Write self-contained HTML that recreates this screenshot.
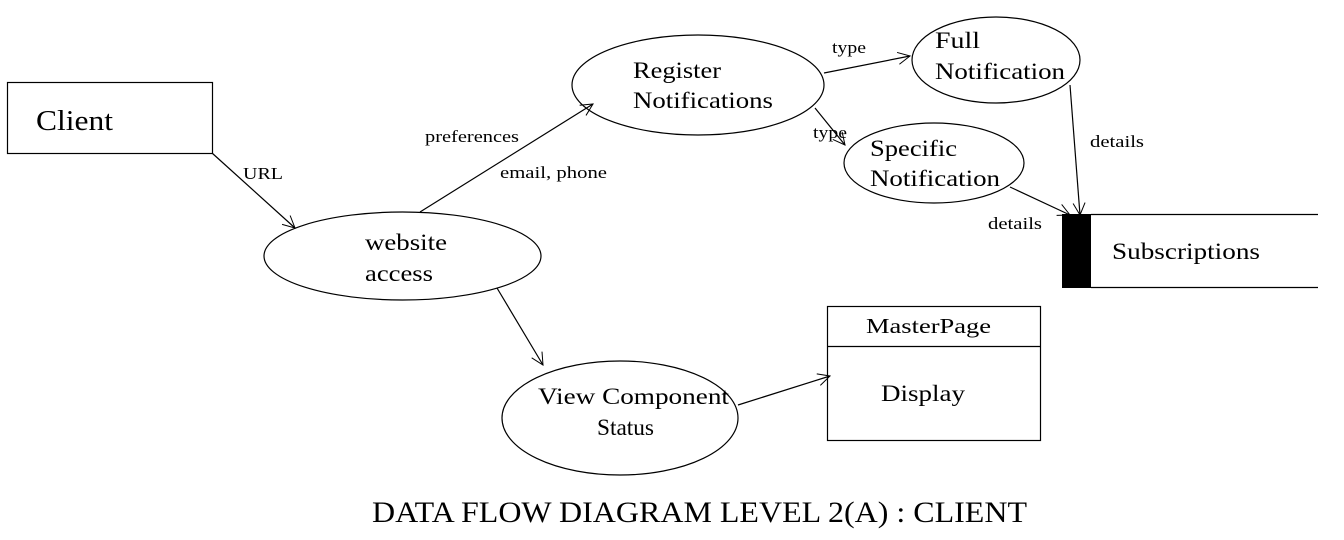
<!DOCTYPE html>
<html><head><style>html,body{margin:0;padding:0;background:#fff;}svg{display:block;}text{font-family:"Liberation Serif",serif;fill:#000;}</style></head>
<body>
<svg width="1344" height="540" viewBox="0 0 1344 540" xmlns="http://www.w3.org/2000/svg">
<defs><marker id="a" markerWidth="16" markerHeight="16" refX="14" refY="8" orient="auto" markerUnits="userSpaceOnUse"><path d="M2,2 L14,8 L2,14" fill="none" stroke="#000" stroke-width="1"/></marker></defs>
<g fill="none" stroke="#000" stroke-width="1.2">
<rect x="7.5" y="82.5" width="205" height="71"/>
<ellipse cx="402.5" cy="256" rx="138.5" ry="44"/>
<ellipse cx="698" cy="85" rx="126" ry="50"/>
<ellipse cx="996" cy="60" rx="84" ry="43"/>
<ellipse cx="934" cy="163" rx="90" ry="40"/>
<ellipse cx="620" cy="418" rx="118" ry="57"/>
<rect x="827.5" y="306.5" width="213" height="134"/>
<line x1="827" y1="346.5" x2="1040" y2="346.5"/>
<line x1="1091" y1="214.5" x2="1318" y2="214.5"/>
<line x1="1091" y1="287.5" x2="1318" y2="287.5"/>
<line x1="212" y1="153" x2="295" y2="228" marker-end="url(#a)"/>
<line x1="420" y1="212" x2="593" y2="104" marker-end="url(#a)"/>
<line x1="824" y1="73" x2="910" y2="56" marker-end="url(#a)"/>
<line x1="815" y1="108" x2="845" y2="145" marker-end="url(#a)"/>
<line x1="1010" y1="187" x2="1070" y2="215" marker-end="url(#a)"/>
<line x1="1070" y1="85" x2="1080" y2="215" marker-end="url(#a)"/>
<line x1="497" y1="288" x2="543" y2="365" marker-end="url(#a)"/>
<line x1="738" y1="405" x2="830" y2="376" marker-end="url(#a)"/>
</g>
<rect x="1062" y="214" width="29" height="74" fill="#000"/>
<text x="36" y="130" font-size="29" textLength="77" lengthAdjust="spacingAndGlyphs">Client</text>
<text x="243" y="179" font-size="17" textLength="40" lengthAdjust="spacingAndGlyphs">URL</text>
<text x="425" y="142" font-size="17" textLength="94" lengthAdjust="spacingAndGlyphs">preferences</text>
<text x="500" y="178" font-size="17" textLength="107" lengthAdjust="spacingAndGlyphs">email, phone</text>
<text x="365" y="250" font-size="23" textLength="82" lengthAdjust="spacingAndGlyphs">website</text>
<text x="365" y="281" font-size="23" textLength="68" lengthAdjust="spacingAndGlyphs">access</text>
<text x="633" y="78" font-size="23" textLength="88" lengthAdjust="spacingAndGlyphs">Register</text>
<text x="633" y="108" font-size="23" textLength="140" lengthAdjust="spacingAndGlyphs">Notifications</text>
<text x="832" y="53" font-size="17" textLength="34" lengthAdjust="spacingAndGlyphs">type</text>
<text x="813" y="138" font-size="17" textLength="34" lengthAdjust="spacingAndGlyphs">type</text>
<text x="935" y="48" font-size="23" textLength="45" lengthAdjust="spacingAndGlyphs">Full</text>
<text x="935" y="79" font-size="23" textLength="130" lengthAdjust="spacingAndGlyphs">Notification</text>
<text x="870" y="156" font-size="23" textLength="87" lengthAdjust="spacingAndGlyphs">Specific</text>
<text x="870" y="186" font-size="23" textLength="130" lengthAdjust="spacingAndGlyphs">Notification</text>
<text x="1090" y="147" font-size="17" textLength="54" lengthAdjust="spacingAndGlyphs">details</text>
<text x="988" y="229" font-size="17" textLength="54" lengthAdjust="spacingAndGlyphs">details</text>
<text x="1112" y="259" font-size="23" textLength="148" lengthAdjust="spacingAndGlyphs">Subscriptions</text>
<text x="538" y="404" font-size="23" textLength="191" lengthAdjust="spacingAndGlyphs">View Component</text>
<text x="597" y="435" font-size="23" textLength="57" lengthAdjust="spacingAndGlyphs">Status</text>
<text x="866" y="333" font-size="21" textLength="125" lengthAdjust="spacingAndGlyphs">MasterPage</text>
<text x="881" y="401" font-size="23" textLength="84" lengthAdjust="spacingAndGlyphs">Display</text>
<text x="372" y="522" font-size="30" textLength="655" lengthAdjust="spacingAndGlyphs">DATA FLOW DIAGRAM LEVEL 2(A) : CLIENT</text>
</svg>
</body></html>
